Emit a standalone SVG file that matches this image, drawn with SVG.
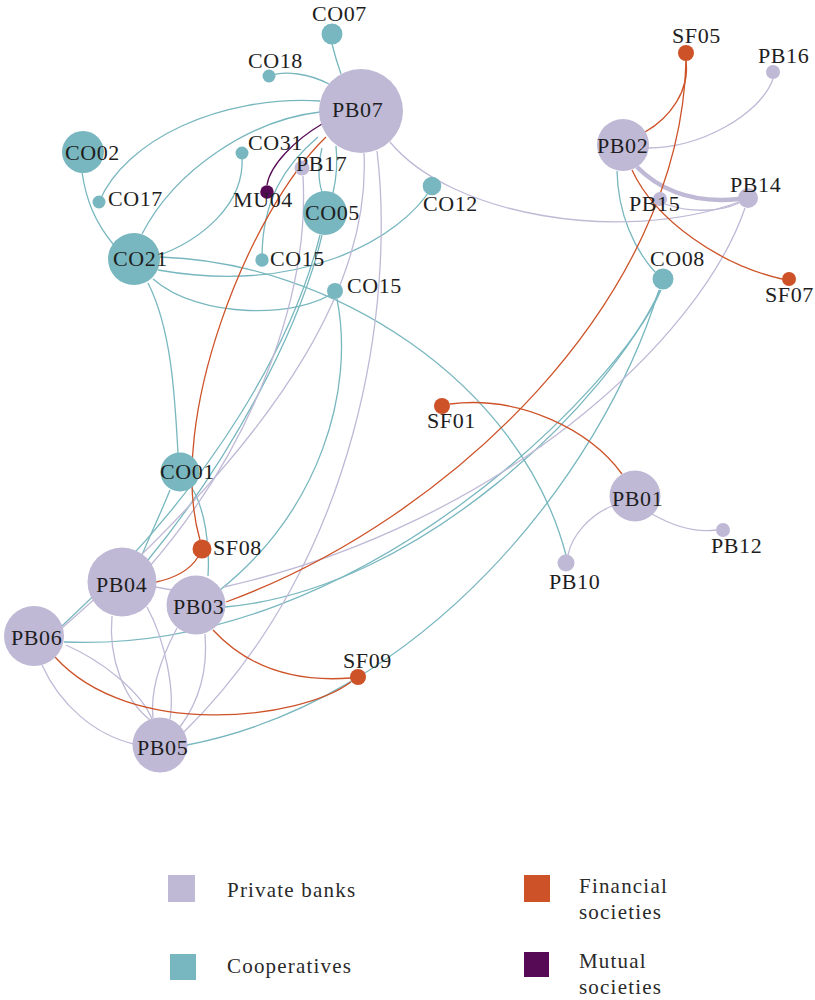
<svg xmlns="http://www.w3.org/2000/svg" width="815" height="1000" viewBox="0 0 815 1000">
<style>
.e{fill:none;stroke-width:1.3}
.co{stroke:#78b7bf}
.pb{stroke:#bfb9d6}
.sf{stroke:#cd5228}
.mu{stroke:#560a56}
.nPB{fill:#bfb9d6}
.nCO{fill:#78b7bf}
.nSF{fill:#cd5228}
.nMU{fill:#560a56}
.lb{font-family:'Liberation Serif','DejaVu Serif','Times New Roman',serif;font-size:22px;fill:#1e1e1e;letter-spacing:0.6px}
.lg{font-family:'Liberation Serif','DejaVu Serif','Times New Roman',serif;font-size:21px;fill:#2a2a2a;letter-spacing:1.2px}
</style>
<rect width="815" height="1000" fill="#ffffff"/>
<g id="connectors">
<path class="e co" d="M332,44 Q336,60 341,74"/>
<path class="e co" d="M269,76 C285,70 310,74 329,84"/>
<path class="e co" d="M99,202 C125,140 220,95 320,101"/>
<path class="e co" d="M142,234 C175,170 250,120 320,112"/>
<path class="e co" d="M82,172 C86,200 95,222 113,244"/>
<path class="e co" d="M242,157 C245,205 200,240 160,255"/>
<path class="e co" d="M318,137 C285,165 262,200 262,258"/>
<path class="e co" d="M322,148 C318,165 318,180 322,192"/>
<path class="e co" d="M336,146 C338,165 336,180 333,193"/>
<path class="e co" d="M432,187 C400,240 300,295 158,270"/>
<path class="e co" d="M336,291 C300,318 200,320 153,279"/>
<path class="e co" d="M160,257 C330,262 520,380 566,555"/>
<path class="e co" d="M148,283 C172,330 175,400 178,453"/>
<path class="e co" d="M337,299 C355,390 320,510 220,590"/>
<path class="e co" d="M322,235 C300,330 230,460 148,560"/>
<path class="e co" d="M320,235 C295,335 220,480 62,626"/>
<path class="e co" d="M170,490 C160,515 150,535 142,555"/>
<path class="e co" d="M192,488 C205,510 210,545 208,576"/>
<path class="e co" d="M617,171 C618,215 635,250 655,272"/>
<path class="e co" d="M660,290 C610,400 420,590 225,607"/>
<path class="e co" d="M661,290 C620,385 360,655 64,642"/>
<path class="e co" d="M659,290 C600,480 420,700 187,745"/>
<path class="e pb" d="M390,142 C450,215 620,245 739,202"/>
<path class="e pb" d="M377,151 C395,300 360,560 183,733"/>
<path class="e pb" d="M364,153 C370,270 300,420 62,628"/>
<path class="e pb" d="M303,176 C310,300 250,450 150,566"/>
<path class="e pb" d="M648,148 C700,148 760,115 773,79"/>
<path class="e pb" d="M637,167 C665,195 700,203 739,199" style="stroke-width:4.5"/>
<path class="e pb" d="M665,204 C690,213 720,212 739,203"/>
<path class="e pb" d="M745,208 C700,340 500,525 224,587"/>
<path class="e pb" d="M612,506 C590,515 572,535 568,555"/>
<path class="e pb" d="M652,514 C680,530 700,532 716,530"/>
<path class="e pb" d="M150,586 L172,590"/>
<path class="e pb" d="M112,616 C108,660 125,700 150,720"/>
<path class="e pb" d="M147,607 C165,640 175,690 170,719"/>
<path class="e pb" d="M42,665 C60,705 95,735 134,744"/>
<path class="e pb" d="M66,645 C100,660 140,690 152,719"/>
<path class="e pb" d="M177,628 C160,660 150,690 153,718"/>
<path class="e pb" d="M205,634 C208,670 200,700 180,727"/>
<path class="e sf" d="M326,137 C250,210 165,420 200,540"/>
<path class="e sf" d="M198,557 C190,570 175,578 156,582"/>
<path class="e sf" d="M686,61 C690,90 670,118 645,132"/>
<path class="e sf" d="M686,61 C680,300 450,520 226,602"/>
<path class="e sf" d="M632,170 C655,220 720,265 782,279"/>
<path class="e sf" d="M450,404 C520,395 590,430 622,474"/>
<path class="e sf" d="M213,630 C250,670 300,682 351,678"/>
<path class="e sf" d="M55,657 C130,740 300,720 351,682"/>
<path class="e mu" d="M322,124 C295,140 270,165 267,185"/>
</g>
<g id="PB07"><circle class="nPB" cx="361" cy="111" r="42"/><text class="lb" x="332" y="117">PB07</text></g>
<g id="CO07"><circle class="nCO" cx="332" cy="34" r="10.5"/><text class="lb" x="312" y="21">CO07</text></g>
<g id="CO18"><circle class="nCO" cx="269" cy="76" r="6.5"/><text class="lb" x="248" y="68">CO18</text></g>
<g id="CO02"><circle class="nCO" cx="83" cy="152" r="21"/><text class="lb" x="65" y="160">CO02</text></g>
<g id="CO17"><circle class="nCO" cx="99" cy="202" r="6.5"/><text class="lb" x="108" y="206">CO17</text></g>
<g id="CO31"><circle class="nCO" cx="242" cy="153" r="6.5"/><text class="lb" x="248" y="150">CO31</text></g>
<g id="PB17"><circle class="nPB" cx="302" cy="168" r="7.5"/><text class="lb" x="296" y="171">PB17</text></g>
<g id="MU04"><circle class="nMU" cx="267" cy="192" r="6.8"/><text class="lb" x="233" y="207">MU04</text></g>
<g id="CO05"><circle class="nCO" cx="325" cy="213" r="22"/><text class="lb" x="305" y="220">CO05</text></g>
<g id="CO12"><circle class="nCO" cx="432" cy="186" r="9.3"/><text class="lb" x="423" y="211">CO12</text></g>
<g id="CO21"><circle class="nCO" cx="134" cy="259" r="26"/><text class="lb" x="113" y="266">CO21</text></g>
<g id="CO15a"><circle class="nCO" cx="262" cy="260" r="6.7"/><text class="lb" x="270" y="266">CO15</text></g>
<g id="CO15b"><circle class="nCO" cx="335" cy="291" r="8"/><text class="lb" x="347" y="293">CO15</text></g>
<g id="CO01"><circle class="nCO" cx="180" cy="472" r="19.5"/><text class="lb" x="160" y="479">CO01</text></g>
<g id="SF08"><circle class="nSF" cx="202" cy="549" r="9.5"/><text class="lb" x="213" y="555">SF08</text></g>
<g id="PB04"><circle class="nPB" cx="122" cy="582" r="34.5"/><text class="lb" x="96" y="592">PB04</text></g>
<g id="PB03"><circle class="nPB" cx="196" cy="605" r="29.5"/><text class="lb" x="173" y="614">PB03</text></g>
<g id="PB06"><circle class="nPB" cx="34" cy="636" r="30"/><text class="lb" x="11" y="645">PB06</text></g>
<g id="PB05"><circle class="nPB" cx="160" cy="745" r="27.5"/><text class="lb" x="137" y="755">PB05</text></g>
<g id="SF09"><circle class="nSF" cx="358" cy="677" r="8"/><text class="lb" x="343" y="668">SF09</text></g>
<g id="SF01"><circle class="nSF" cx="442" cy="406" r="8"/><text class="lb" x="427" y="428">SF01</text></g>
<g id="PB01"><circle class="nPB" cx="635" cy="496" r="25.5"/><text class="lb" x="612" y="506">PB01</text></g>
<g id="PB10"><circle class="nPB" cx="566" cy="563" r="8.5"/><text class="lb" x="549" y="589">PB10</text></g>
<g id="PB12"><circle class="nPB" cx="723" cy="530" r="7"/><text class="lb" x="711" y="553">PB12</text></g>
<g id="PB02"><circle class="nPB" cx="623" cy="145" r="26"/><text class="lb" x="597" y="153">PB02</text></g>
<g id="SF05"><circle class="nSF" cx="686" cy="53" r="8"/><text class="lb" x="672" y="43">SF05</text></g>
<g id="PB16"><circle class="nPB" cx="773" cy="72" r="7"/><text class="lb" x="758" y="63">PB16</text></g>
<g id="PB14"><circle class="nPB" cx="748" cy="198" r="10"/><text class="lb" x="730" y="192">PB14</text></g>
<g id="PB15"><circle class="nPB" cx="660" cy="199" r="7"/><text class="lb" x="629" y="211">PB15</text></g>
<g id="CO08"><circle class="nCO" cx="663" cy="279" r="10.5"/><text class="lb" x="650" y="266">CO08</text></g>
<g id="SF07"><circle class="nSF" cx="789" cy="279" r="7"/><text class="lb" x="765" y="302">SF07</text></g>
<g id="legend">
<rect class="nPB" x="168" y="875" width="27" height="27"/>
<text class="lg" x="227" y="897">Private banks</text>
<rect class="nCO" x="170" y="954" width="26" height="26"/>
<text class="lg" x="227" y="973">Cooperatives</text>
<rect class="nSF" x="524" y="875" width="26" height="27"/>
<text class="lg" x="579" y="893">Financial</text>
<text class="lg" x="579" y="919">societies</text>
<rect class="nMU" x="524" y="952" width="25" height="25"/>
<text class="lg" x="579" y="968">Mutual</text>
<text class="lg" x="579" y="994">societies</text>
</g>
</svg>
